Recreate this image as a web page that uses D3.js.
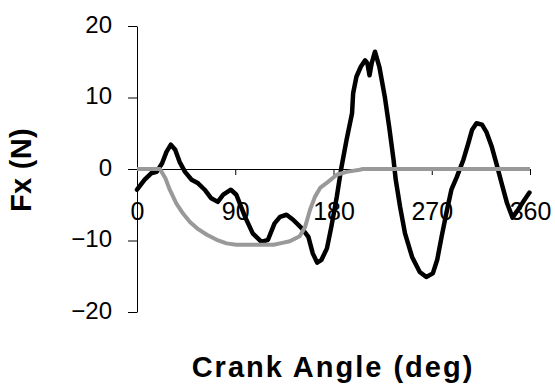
<!DOCTYPE html>
<html>
<head>
<meta charset="utf-8">
<script src="https://cdn.jsdelivr.net/npm/d3@7/dist/d3.min.js"></script>
<style>
  html, body { margin: 0; padding: 0; background: #ffffff; }
  svg { display: block; }
  text { font-family: "Liberation Sans", Arial, sans-serif; fill: #000; }
</style>
</head>
<body>
<svg id="chart" width="555" height="390"></svg>
<script>
// Crank angle (deg) and measured force Fx (N), black trace
const measuredAngle = [0, 7, 13, 18, 23, 27, 31, 35, 39, 44, 50, 56, 62, 68, 74, 79, 86, 91, 99, 106,
  114, 120, 126, 131, 137, 143, 151, 157, 161, 165, 169, 174, 178, 183, 187, 192, 197, 198, 201, 205,
  209, 211, 213, 215, 218, 222, 227, 231, 235, 237, 241, 245.5, 252, 259, 265, 271, 275, 279, 284, 288,
  293, 299, 303.5, 307, 311, 316, 320, 325, 329.5, 334, 339, 344, 349, 355, 359.5];
const measuredFx = [-2.9, -1.5, -0.6, -0.4, 0.8, 2.4, 3.4, 2.7, 1.0, -0.4, -1.5, -2.0, -2.9, -4.1, -4.6, -3.6, -2.9, -3.6, -6.7, -9.0,
  -10.2, -9.9, -7.6, -6.7, -6.4, -7.1, -8.3, -9.5, -11.8, -13.1, -12.7, -11.1, -8.1, -3.9, 0, 4.1, 7.8, 10.6, 12.9, 14.3,
  15.2, 14.8, 13.1, 14.8, 16.4, 14.3, 10.1, 5.9, 1.3, -1.5, -5.3, -9.0, -12.3, -14.4, -15.1, -14.6, -12.7, -9.5, -5.7, -2.9,
  -1.1, 1.3, 3.6, 5.5, 6.4, 6.2, 5.2, 3.1, 0.6, -2.0, -4.8, -6.8, -5.7, -4.3, -3.3];

// Crank angle (deg) and model force Fx (N), grey trace
const modelAngle = [0, 21, 26, 30, 36, 42, 48.5, 55, 64, 73, 82, 91, 125, 131, 140, 149, 154, 158.5, 163, 168,
  175, 183, 192, 204, 207, 360];
const modelFx = [0, 0, -1.3, -2.9, -4.8, -6.2, -7.4, -8.3, -9.2, -9.9, -10.4, -10.6, -10.6, -10.4, -10.1, -9.4, -8.1, -5.7, -3.9, -2.6,
  -1.8, -0.8, -0.4, -0.1, 0, 0];

const xTicks = [0, 90, 180, 270, 360];
const yTicks = [-20, -10, 0, 10, 20];
const xTitle = "Crank Angle (deg)";
const yTitle = "Fx (N)";

const svg = d3.select("#chart");

const x = d3.scaleLinear().domain([0, 360]).range([137, 530]);
const y = d3.scaleLinear().domain([-20, 20]).range([312, 26]);

// Y axis
const yAxis = svg.append("g")
  .attr("transform", `translate(${x(0)},0)`)
  .call(d3.axisLeft(y).tickValues(yTicks).tickSize(9).tickSizeOuter(0).tickPadding(16));
yAxis.selectAll("text")
  .style("font-size", "24px")
  .attr("dy", "0.26em");

// X axis crossing at zero
const xAxis = svg.append("g")
  .attr("transform", `translate(0,${y(0)})`)
  .call(d3.axisBottom(x).tickValues(xTicks).tickSize(6).tickSizeOuter(0).tickPadding(27));
xAxis.selectAll("text")
  .style("font-size", "25px");

svg.selectAll(".domain, .tick line").attr("stroke", "#000").attr("stroke-width", 1);

const line = d3.line().x(d => x(d[0])).y(d => y(d[1]));

svg.append("path")
  .datum(measuredAngle.map((a, i) => [a, measuredFx[i]]))
  .attr("d", line)
  .attr("fill", "none")
  .attr("stroke", "#000")
  .attr("stroke-width", 4.5)
  .attr("stroke-linejoin", "round")
  .attr("stroke-linecap", "round");

svg.append("path")
  .datum(modelAngle.map((a, i) => [a, modelFx[i]]))
  .attr("d", line)
  .attr("fill", "none")
  .attr("stroke", "#999999")
  .attr("stroke-width", 4)
  .attr("stroke-linejoin", "round");

// Axis titles
svg.append("text")
  .attr("x", 333)
  .attr("y", 377)
  .attr("text-anchor", "middle")
  .style("font-size", "29px")
  .style("font-weight", "bold")
  .style("letter-spacing", "2px")
  .text(xTitle);

svg.append("text")
  .attr("transform", `translate(31,170) rotate(-90)`)
  .attr("text-anchor", "middle")
  .style("font-size", "29px")
  .style("font-weight", "bold")
  .style("letter-spacing", "0.3px")
  .text(yTitle);
</script>
</body>
</html>
